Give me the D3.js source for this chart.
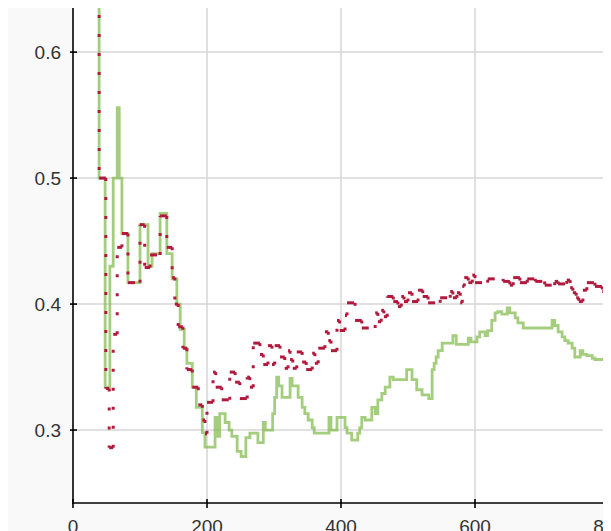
<!DOCTYPE html>
<html><head><meta charset="utf-8">
<script src="https://cdn.jsdelivr.net/npm/d3@7"></script>
<style>
body{margin:8px;background:#fff;overflow:hidden}
svg{display:block;overflow:hidden}
text{font-family:"Liberation Sans",Arial,sans-serif}
</style></head><body>
<div id="chart"></div>
<script>
const xTicks=[0,200,400,600,800];
const yTicks=[0.3,0.4,0.5,0.6];
const xTickLabels=["0","200","400","600","800"];
const yTickLabels=["0.3","0.4","0.5","0.6"];

// Green series (step-after)
const greenX=[37,39,48,55,60,66,69,73,82,100,112,118,130,140,148,155,160,166,170,178,184,193,197,212,215,219,227,233,237,245,251,258,264,276,284,287,298,301,304,307,312,324,327,336,342,346,351,357,360,382,385,394,406,409,416,425,428,431,436,446,451,455,461,466,473,478,498,506,513,521,531,536,539,542,545,551,567,572,590,594,603,607,615,619,625,630,634,640,648,652,660,664,672,715,719,724,730,734,739,745,749,757,761,767,775,779,810];
const greenY=[0.75,0.5,0.334,0.43,0.5,0.556,0.5,0.456,0.417,0.463,0.43,0.44,0.472,0.44,0.42,0.40,0.38,0.365,0.353,0.334,0.318,0.298,0.2865,0.31,0.295,0.313,0.306,0.30,0.295,0.283,0.279,0.294,0.2975,0.29,0.306,0.30,0.313,0.326,0.342,0.335,0.326,0.341,0.335,0.326,0.318,0.313,0.308,0.302,0.2976,0.31,0.30,0.31,0.302,0.2975,0.292,0.2975,0.302,0.31,0.308,0.318,0.313,0.324,0.329,0.334,0.342,0.34,0.348,0.34,0.332,0.328,0.325,0.348,0.353,0.358,0.363,0.369,0.375,0.368,0.373,0.37,0.374,0.378,0.375,0.379,0.387,0.393,0.394,0.392,0.397,0.393,0.389,0.385,0.381,0.387,0.383,0.378,0.374,0.371,0.369,0.365,0.358,0.363,0.36,0.359,0.357,0.356,0.356];

// Red series (step-after, dotted)
const redX=[37,39,49,54,60,66,73,82,100,107,115,130,140,148,152,157,164,170,178,187,193,197,200,209,213,222,234,242,249,260,264,269,279,284,291,297,301,309,316,321,324,328,334,342,348,357,361,366,376,381,385,394,398,406,409,421,431,451,455,460,464,469,478,485,490,494,500,506,515,522,530,548,563,567,573,578,581,584,590,596,600,619,642,652,657,667,678,690,704,719,724,737,742,746,751,755,761,767,779,790,797,810];
const redY=[0.75,0.5,0.333,0.286,0.376,0.445,0.456,0.417,0.463,0.429,0.439,0.47,0.445,0.421,0.40,0.382,0.365,0.348,0.334,0.32,0.308,0.297,0.322,0.346,0.334,0.324,0.346,0.338,0.325,0.342,0.334,0.369,0.36,0.352,0.367,0.352,0.367,0.358,0.349,0.363,0.356,0.349,0.362,0.354,0.348,0.361,0.353,0.365,0.378,0.371,0.363,0.387,0.379,0.391,0.401,0.387,0.381,0.393,0.386,0.395,0.39,0.406,0.402,0.398,0.406,0.402,0.409,0.402,0.411,0.406,0.401,0.405,0.41,0.405,0.409,0.401,0.414,0.421,0.417,0.423,0.417,0.42,0.418,0.415,0.421,0.417,0.42,0.418,0.415,0.418,0.416,0.419,0.413,0.409,0.405,0.402,0.411,0.417,0.414,0.41,0.409,0.409];

const W=611,H=531;
const pL=65,pT=0,pB=495,pR=611;
const svg=d3.select("#chart").append("svg").attr("width",W).attr("height",H);
svg.append("rect").attr("width",W).attr("height",H).attr("fill","#f9f9f9");
svg.append("rect").attr("x",pL).attr("y",pT).attr("width",pR-pL).attr("height",pB-pT).attr("fill","#fff");

const x=d3.scaleLinear().domain([0,800]).range([65,601]);
const y=d3.scaleLinear().domain([0.2421,0.635]).range([495,0]);

svg.append("defs").append("clipPath").attr("id","clip")
  .append("rect").attr("x",pL).attr("y",pT).attr("width",pR-pL).attr("height",pB-pT);

// grid
const grid=svg.append("g");
grid.selectAll("line.h").data(yTicks).join("line")
  .attr("x1",pL).attr("x2",pR).attr("y1",d=>y(d)).attr("y2",d=>y(d))
  .attr("stroke","#d6d6d6").attr("stroke-width",1.5);
grid.selectAll("line.v").data(xTicks.filter(d=>d>0)).join("line")
  .attr("x1",d=>x(d)).attr("x2",d=>x(d)).attr("y1",pT).attr("y2",pB)
  .attr("stroke","#d6d6d6").attr("stroke-width",1.5);

const plot=svg.append("g").attr("clip-path","url(#clip)");
const stepLine=d3.line().x(d=>x(d[0])).y(d=>y(d[1])).curve(d3.curveStepAfter);

plot.append("path")
  .attr("d",stepLine(greenX.map((v,i)=>[v,greenY[i]])))
  .attr("fill","none").attr("stroke","rgb(125,185,70)").attr("stroke-opacity",0.7)
  .attr("stroke-width",2.8);

const seg=d3.line().x(d=>x(d[0])).y(d=>y(d[1]));
const hSegs=[],vSegs=[];
for(let i=0;i<redX.length-1;i++){
  hSegs.push([[redX[i],redY[i]],[redX[i+1],redY[i]]]);
  vSegs.push([[redX[i+1],redY[i]],[redX[i+1],redY[i+1]]]);
}
const redG=plot.append("g").attr("fill","none").attr("stroke","#b3193d").attr("stroke-width",3);
redG.selectAll("path.h").data(hSegs).join("path")
  .attr("d",d=>seg(d)).attr("stroke-dasharray","7,9");
redG.selectAll("path.v").data(vSegs).join("path")
  .attr("d",d=>seg(d)).attr("stroke-dasharray","3,16");

// axes
const ax=svg.append("g");
ax.append("line").attr("x1",pL).attr("x2",pL).attr("y1",pT).attr("y2",pB+1)
  .attr("stroke","#000").attr("stroke-width",1.6);
ax.append("line").attr("x1",pL).attr("x2",pR).attr("y1",pB).attr("y2",pB)
  .attr("stroke","#000").attr("stroke-width",1.6);
ax.selectAll("line.yt").data(yTicks).join("line")
  .attr("x1",pL-3).attr("x2",pL+4).attr("y1",d=>y(d)).attr("y2",d=>y(d))
  .attr("stroke","#000").attr("stroke-width",1.6);
ax.selectAll("line.xt").data(xTicks).join("line")
  .attr("x1",d=>x(d)).attr("x2",d=>x(d)).attr("y1",pB-4).attr("y2",pB+5)
  .attr("stroke","#000").attr("stroke-width",1.6);
ax.selectAll("text.yl").data(yTicks).join("text")
  .attr("x",pL-12).attr("y",d=>y(d)+7).attr("text-anchor","end")
  .attr("font-size",19).attr("fill","#333").text((d,i)=>yTickLabels[i]);
ax.selectAll("text.xl").data(xTicks).join("text")
  .attr("x",d=>x(d)).attr("y",pB+30).attr("text-anchor","middle")
  .attr("font-size",19).attr("fill","#333").text((d,i)=>xTickLabels[i]);
</script></body></html>
